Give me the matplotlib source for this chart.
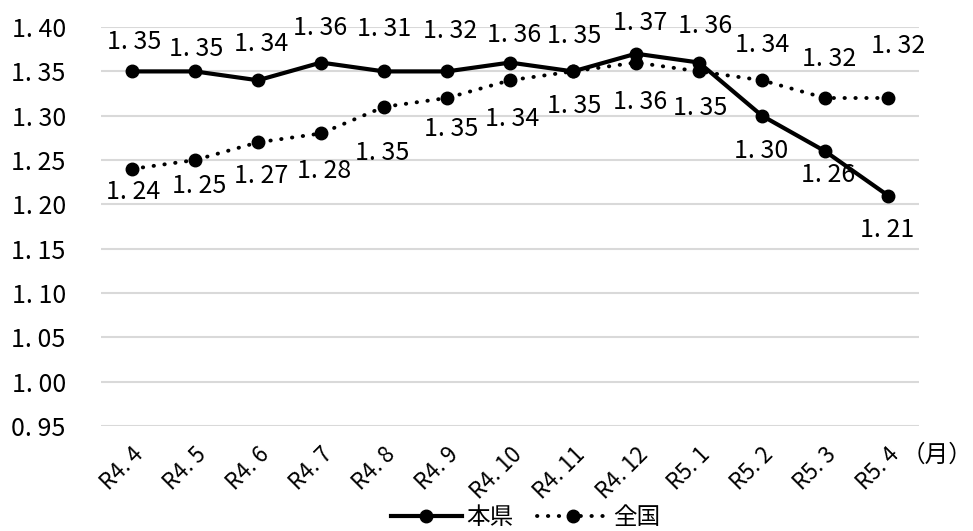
import numpy as np
import matplotlib
matplotlib.use("Agg")
import matplotlib.pyplot as plt
from matplotlib.ticker import FixedLocator, FuncFormatter

plt.rcParams['font.family'] = ['Noto Sans CJK JP', 'DejaVu Sans']

months = ['R4.4', 'R4.5', 'R4.6', 'R4.7', 'R4.8', 'R4.9', 'R4.10', 'R4.11',
          'R4.12', 'R5.1', 'R5.2', 'R5.3', 'R5.4']
pref = [1.35, 1.35, 1.34, 1.36, 1.35, 1.35, 1.36, 1.35, 1.37, 1.36, 1.30, 1.26, 1.21]
nation = [1.24, 1.25, 1.27, 1.28, 1.31, 1.32, 1.34, 1.35, 1.36, 1.35, 1.34, 1.32, 1.32]

# label offsets from each point, in pixels (dx, dy up)
pref_off = [(2, 29), (1, 22), (3, 36), (-1, 35), (-2, -82), (4, -58), (4, 28),
            (1, 35), (4, 31), (6, 37), (-1, -35), (3, -24), (-1, -34)]
nation_off = [(1, -23), (4, -26), (3, -34), (3, -38), (0, 78), (3, 67), (2, -39),
              (1, -35), (4, -39), (1, -37), (0, 35), (4, 39), (10, 52)]

fig = plt.figure(figsize=(9.73, 5.31), dpi=100)
ax = fig.add_axes([0.1033, 0.1977, 0.8417, 0.7513])

x = np.arange(len(months))
ax.plot(x, pref, color='black', lw=3, marker='o', ms=9, label='本県', zorder=3)
ax.plot(x, nation, color='black', lw=2.8, ls=(0, (0.1, 2.7)), dash_capstyle='round',
        marker='o', ms=9, label='全国', zorder=2)

def fmt(v):
    return f"{v:.2f}".replace('.', '. ')

for xi, v, (dx, dy) in zip(x, pref, pref_off):
    ax.annotate(fmt(v), (xi, v), xytext=(dx, dy), textcoords='offset pixels',
                ha='center', va='center', fontsize=18, annotation_clip=False)
for xi, v, (dx, dy) in zip(x, nation, nation_off):
    ax.annotate(fmt(v), (xi, v), xytext=(dx, dy), textcoords='offset pixels',
                ha='center', va='center', fontsize=18, annotation_clip=False)

ax.set_xlim(-0.5, len(months) - 0.5)
ax.set_ylim(0.95, 1.40)
ax.yaxis.set_major_locator(FixedLocator(np.arange(0.95, 1.401, 0.05)))
ax.yaxis.set_major_formatter(FuncFormatter(lambda v, p: fmt(v)))
ax.grid(axis='y', color='#d9d9d9', lw=1.5)
ax.set_axisbelow(True)
for s in ax.spines.values():
    s.set_visible(False)
ax.tick_params(axis='y', length=0, pad=25, labelsize=18)
ax.tick_params(axis='x', length=0, pad=12)

ax.set_xticks(x)
ax.set_xticklabels([m.replace('.', '. ') for m in months], rotation=45, ha='right',
                   rotation_mode='anchor', fontsize=16)

fig.text(0.999, 0.143, '（月）', ha='right', va='center', fontsize=17)

ax.legend(loc='center', bbox_to_anchor=(0.540, 0.025), bbox_transform=fig.transFigure,
          ncol=2, frameon=False, fontsize=17, handlelength=3.0, columnspacing=1.0,
          handletextpad=0.2)

fig.savefig('out.png', dpi=100)
